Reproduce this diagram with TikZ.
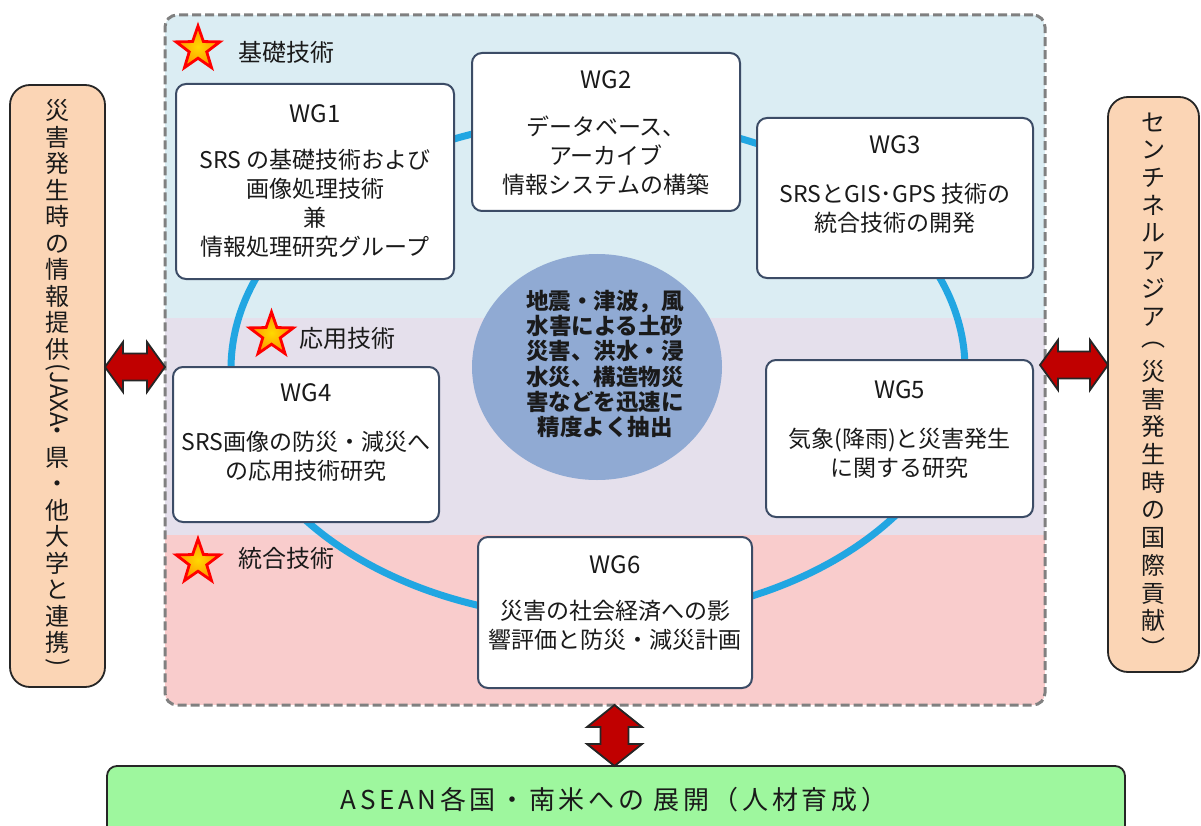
\documentclass[tikz,border=0pt]{standalone}
\usepackage{fontspec}
\setmainfont{Noto Sans CJK JP}
\usepackage{graphicx}
\usetikzlibrary{shapes.geometric,calc}
\definecolor{ringblue}{HTML}{21A6E2}
\definecolor{boxline}{HTML}{3C4C66}
\definecolor{bandA}{HTML}{DBEDF3}
\definecolor{bandB}{HTML}{E5E0EC}
\definecolor{bandC}{HTML}{F9CCCC}
\definecolor{framegray}{HTML}{808080}
\definecolor{corefill}{HTML}{90AAD3}
\definecolor{peach}{HTML}{FBD5B5}
\definecolor{lgreen}{HTML}{9EF79E}
\definecolor{darkred}{HTML}{C00000}
\definecolor{staryellow}{HTML}{FFC000}
\definecolor{txt}{HTML}{1A1A1A}

\newcommand\hdarrow[2]{%
 \filldraw[redarrow] let \p1=(#1), \p2=(#2) in
 (\x1,\y1) -- (\x1+18pt,\y1+25pt) -- (\x1+18pt,\y1+13.5pt) -- (\x2-18pt,\y1+13.5pt)
 -- (\x2-18pt,\y1+25pt) -- (\x2,\y1) -- (\x2-18pt,\y1-25pt) -- (\x2-18pt,\y1-13.5pt)
 -- (\x1+18pt,\y1-13.5pt) -- (\x1+18pt,\y1-25pt) -- cycle;}
\newcommand\vdarrow[2]{%
 \filldraw[redarrow] let \p1=(#1), \p2=(#2) in
 (\x1,\y1) -- (\x1+27.5pt,\y1-22pt) -- (\x1+14pt,\y1-22pt) -- (\x1+14pt,\y2+22pt)
 -- (\x1+27.5pt,\y2+22pt) -- (\x1,\y2) -- (\x1-27.5pt,\y2+22pt) -- (\x1-14pt,\y2+22pt)
 -- (\x1-14pt,\y1-22pt) -- (\x1-27.5pt,\y1-22pt) -- cycle;}

\begin{document}
\begin{tikzpicture}[x=1pt,y=-1pt,
  wgbox/.style={draw=boxline, line width=2pt, fill=white, rounded corners=10pt, inner sep=0pt, outer sep=0pt},
  wgtitle/.style={font=\fontsize{24}{28}\selectfont, text=txt, inner sep=0pt},
  wgbody/.style={font=\fontsize{23}{29}\selectfont, align=center, text=txt, inner sep=0pt},
  lbl/.style={font=\fontsize{24}{28}\selectfont, text=txt, inner sep=0pt},
  starmark/.style={star, star points=5, star point ratio=2.5, minimum size=46pt, inner sep=0pt,
     inner color=yellow!70!orange, outer color=orange!85!yellow, draw=red, line width=2.8pt},
  sidebox/.style={draw=black!85, line width=1.8pt, fill=peach, rounded corners=20pt, inner sep=0pt, outer sep=0pt},
  vtext/.style={font=\fontsize{24}{26.5}\selectfont, align=center, text=txt, inner sep=0pt},
  redarrow/.style={fill=darkred, draw=black!85, line width=1.8pt, line join=miter},
]
\useasboundingbox (0,0) rectangle (1201,826);

% bands
\begin{scope}
  \clip[rounded corners=12pt] (165,15) rectangle (1045,705);
  \fill[bandA] (165,15) rectangle (1045,318);
  \fill[bandB] (165,318) rectangle (1045,535);
  \fill[bandC] (165,535) rectangle (1045,705);
\end{scope}
\node[draw=framegray, line width=3pt, dash pattern=on 9pt off 4pt, rounded corners=12pt,
      minimum width=880pt, minimum height=690pt, inner sep=0pt, outer sep=0pt] (frame) at (605,360) {};

% ring
\node[draw=ringblue, line width=7pt, ellipse, minimum width=734pt, minimum height=500pt, inner sep=0pt] (ring) at (598,369) {};

% core
\node[ellipse, fill=corefill, minimum width=250pt, minimum height=226pt, inner sep=0pt] (core) at (597,367) {};
\node[font=\fontsize{22.5}{25.2}\selectfont\bfseries, align=center, text=txt, inner sep=0pt] (coret) at (605,364)
  {地震・津波，風\\水害による土砂\\災害、洪水・浸\\水災、構造物災\\害などを迅速に\\精度よく抽出};

% WG boxes
\node[wgbox, minimum width=278pt, minimum height=195pt] (wg1) at (315,181.5) {};
\node[wgtitle] (wg1t) at (315,114) {WG1};
\node[wgbody] (wg1b) at (315,203.5) {SRS の基礎技術および\\画像処理技術\\兼\\情報処理研究グループ};

\node[wgbox, minimum width=268pt, minimum height=158pt] (wg2) at (606,132) {};
\node[wgtitle] (wg2t) at (606,80) {WG2};
\node[wgbody] (wg2b) at (606,155.5) {データベース、\\アーカイブ\\情報システムの構築};

\node[wgbox, minimum width=276pt, minimum height=160pt] (wg3) at (895,198) {};
\node[wgtitle] (wg3t) at (895,145) {WG3};
\node[wgbody] (wg3b) at (895,208) {SRSとGIS･GPS 技術の\\統合技術の開発};

\node[wgbox, minimum width=266pt, minimum height=155pt] (wg4) at (306,444.5) {};
\node[wgtitle] (wg4t) at (306,393) {WG4};
\node[wgbody] (wg4b) at (306,456.5) {SRS画像の防災・減災へ\\の応用技術研究};

\node[wgbox, minimum width=267pt, minimum height=157pt] (wg5) at (899.5,438.5) {};
\node[wgtitle] (wg5t) at (899.5,390) {WG5};
\node[wgbody] (wg5b) at (899.5,453.5) {気象(降雨)と災害発生\\に関する研究};

\node[wgbox, minimum width=274pt, minimum height=151pt] (wg6) at (615,612.5) {};
\node[wgtitle] (wg6t) at (615,565) {WG6};
\node[wgbody] (wg6b) at (615,625) {災害の社会経済への影\\響評価と防災・減災計画};

% stars and labels
\node[starmark] (s1) at (198,49) {};
\node[lbl] (l1) at (286,52) {基礎技術};
\node[starmark] (s2) at (271.5,335) {};
\node[lbl] (l2) at (347.5,338) {応用技術};
\node[starmark] (s3) at (198,562) {};
\node[lbl] (l3) at (286,558) {統合技術};

% side boxes
\node[sidebox, minimum width=95pt, minimum height=602pt] (lbox) at (57.5,386) {};
\node[vtext] (ltext) at (58,383) {災\\害\\発\\生\\時\\の\\情\\報\\提\\供\\[-21pt]\rotatebox{-90}{(JAXA}\\・\\県\\・\\他\\大\\学\\と\\連\\携\\[-20pt]\rotatebox{-90}{)}};

\node[sidebox, minimum width=91pt, minimum height=575pt] (rbox) at (1153.5,384.5) {};
\node[vtext, font=\fontsize{24}{27.7}\selectfont] (rtext) at (1153,385) {セ\\ン\\チ\\ネ\\ル\\ア\\ジ\\ア\\[-6pt]︵\\[6pt]災\\害\\発\\生\\時\\の\\国\\際\\貢\\献\\︶};

% bottom box
\node[draw=black!85, line width=1.8pt, fill=lgreen, rounded corners=10pt, minimum width=1018pt, minimum height=90pt,
      anchor=north, inner sep=0pt, outer sep=0pt] (asean) at (616,766) {};
\node[font=\fontsize{26}{30}\selectfont\addfontfeatures{LetterSpace=14}, text=txt, inner sep=0pt] (aseant) at (614,800)
  {ASEAN各国・南米への 展開（人材育成）};

% arrows
\coordinate (ly) at (0,367);
\coordinate (ry) at (0,365);
\coordinate (bx) at (614.5,0);
\coordinate (la1) at (lbox.east |- ly);
\coordinate (la2) at (frame.west |- ly);
\coordinate (ra1) at ([xshift=-5pt]frame.east |- ry);
\coordinate (ra2) at (rbox.west |- ry);
\coordinate (ba1) at (frame.south -| bx);
\coordinate (ba2) at (asean.north -| bx);
\hdarrow{la1}{la2}
\hdarrow{ra1}{ra2}
\vdarrow{ba1}{ba2}
\end{tikzpicture}
\end{document}
